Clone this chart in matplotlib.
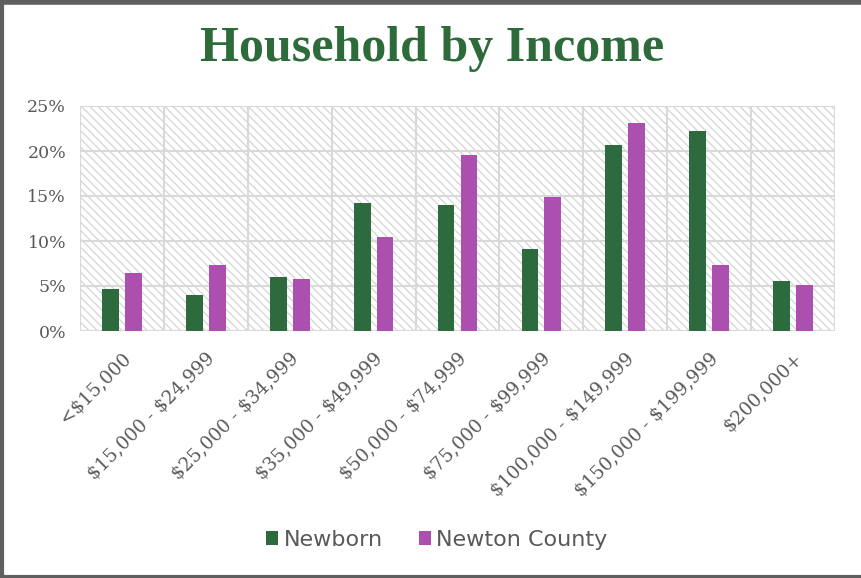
import matplotlib
matplotlib.use("Agg")
import matplotlib.pyplot as plt
from matplotlib.patches import Rectangle, Patch
from matplotlib.lines import Line2D
import numpy as np

categories = ["<$15,000", "$15,000 - $24,999", "$25,000 - $34,999", "$35,000 - $49,999",
              "$50,000 - $74,999", "$75,000 - $99,999", "$100,000 - $149,999",
              "$150,000 - $199,999", "$200,000+"]
newborn = [4.7, 4.0, 6.0, 14.2, 14.0, 9.1, 20.7, 22.2, 5.6]
newton_county = [6.4, 7.3, 5.8, 10.4, 19.5, 14.9, 23.1, 7.3, 5.1]
series_names = ["Newborn", "Newton County"]
y_ticks = [0, 5, 10, 15, 20, 25]

GREEN = "#2D6A3E"
PURPLE = "#AB50AE"
GRID = "#D9D9D9"
TEXT = "#595959"

fig = plt.figure(figsize=(8.61, 5.78), dpi=100)
ax = fig.add_axes([80/861, 1-331/578, 755/861, 225/578])

x = np.arange(len(categories))
w = 0.2
off = 0.137
plt.rcParams['hatch.linewidth'] = 0.9
plt.rcParams['hatch.color'] = "#D4D4D4"

bg = Rectangle((0, 0), 1, 1, transform=ax.transAxes, facecolor="white",
               edgecolor="#D4D4D4", hatch="\\\\\\\\", linewidth=0, zorder=0)
ax.add_patch(bg)

ax.bar(x - off, newborn, width=w, color=GREEN, zorder=3)
ax.bar(x + off, newton_county, width=w, color=PURPLE, zorder=3)

ax.set_xlim(-0.5, len(categories) - 0.5)
ax.set_ylim(0, 25)
ax.set_yticks(y_ticks)
ax.set_yticklabels([f"{v}%" for v in y_ticks], fontfamily="DejaVu Serif",
                   fontsize=12.5, color=TEXT)
ax.set_xticks(x)
ax.set_xticklabels([c.replace("$", r"\$") for c in categories], rotation=45, ha="right",
                   rotation_mode="anchor", fontfamily="DejaVu Serif", fontsize=13.3, color=TEXT)
ax.tick_params(axis="both", length=0)
ax.tick_params(axis="x", pad=13)
ax.tick_params(axis="y", pad=10)

for v in y_ticks:
    ax.axhline(v, color=GRID, linewidth=1.5, zorder=1)
for b in np.arange(-0.5, len(categories), 1.0):
    ax.axvline(b, color=GRID, linewidth=1.5, zorder=1)
for s in ax.spines.values():
    s.set_visible(False)

fig.text(0.502, 1-49/578, "Household by Income", ha="center", va="center",
         fontfamily="Liberation Serif", fontweight="bold", fontsize=36, color="#2E6B3A")

handles = [Patch(facecolor=GREEN), Patch(facecolor=PURPLE)]
fig.legend(handles, series_names, loc="center", bbox_to_anchor=(437/861, 1-540/578),
           ncol=2, frameon=False, prop={"family": "DejaVu Sans", "size": 16},
           labelcolor=TEXT, handlelength=0.55, handleheight=0.55, handletextpad=0.25,
           columnspacing=1.6)

# figure frame
fig.add_artist(Line2D([0, 1], [1-2/578, 1-2/578], transform=fig.transFigure, color="#5F5F5F", linewidth=4))
fig.add_artist(Line2D([1.5/861, 1.5/861], [0, 1], transform=fig.transFigure, color="#5F5F5F", linewidth=3))
fig.add_artist(Line2D([0, 1], [1.5/578, 1.5/578], transform=fig.transFigure, color="#5F5F5F", linewidth=3))

fig.savefig("out.png", dpi=100)
